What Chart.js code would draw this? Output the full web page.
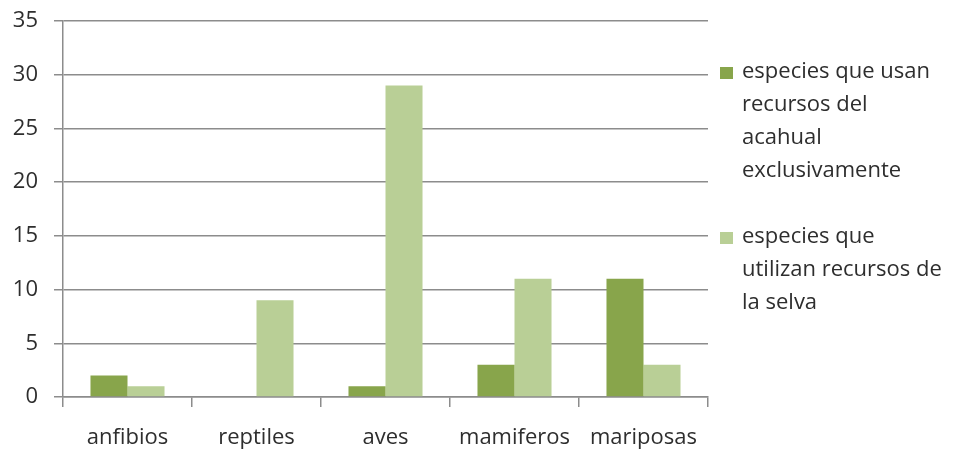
<!DOCTYPE html>
<html>
<head>
<meta charset="utf-8">
<script src="https://cdn.jsdelivr.net/npm/chart.js@4"></script>
<style>
  html, body { margin: 0; padding: 0; background: #fff; }
  #wrap { width: 954px; height: 452px; }
</style>
</head>
<body>
<div id="wrap"><canvas id="grafica" width="954" height="452"></canvas></div>
<script>
const categorias = ['anfibios', 'reptiles', 'aves', 'mamiferos', 'mariposas'];
const acahual = [2, 0, 1, 3, 11];
const selva = [1, 9, 29, 11, 3];
const etiquetaAcahual = ['especies que usan', 'recursos del', 'acahual', 'exclusivamente'];
const etiquetaSelva = ['especies que', 'utilizan recursos de', 'la selva'];

const fuente = '"Open Sans", "Noto Sans", sans-serif';
const textoColor = '#2e2e2e';
const rejilla = '#8c8c8c';

// leyenda propia, porque el texto va partido en varias lineas
const leyenda = {
  id: 'leyenda',
  afterDraw(chart) {
    const ctx = chart.ctx;
    const bloques = [
      { y: 73, color: chart.data.datasets[0].backgroundColor, lineas: chart.data.datasets[0].label },
      { y: 238, color: chart.data.datasets[1].backgroundColor, lineas: chart.data.datasets[1].label }
    ];
    ctx.save();
    ctx.font = '22px ' + fuente;
    ctx.textBaseline = 'middle';
    bloques.forEach(b => {
      ctx.fillStyle = b.color;
      ctx.fillRect(720, b.y - 6, 13, 12);
      ctx.fillStyle = textoColor;
      b.lineas.forEach((l, i) => ctx.fillText(l, 742, b.y - 1 + i * 33));
    });
    ctx.restore();
  }
};

new Chart(document.getElementById('grafica'), {
  type: 'bar',
  data: {
    labels: categorias,
    datasets: [
      { label: etiquetaAcahual, data: acahual, backgroundColor: '#88a54b' },
      { label: etiquetaSelva, data: selva, backgroundColor: '#b9cf96' }
    ]
  },
  options: {
    responsive: false,
    animation: false,
    categoryPercentage: 0.574,
    barPercentage: 1,
    layout: { padding: { top: 21, right: 246, left: 0, bottom: 0 } },
    plugins: { legend: { display: false }, tooltip: { enabled: false } },
    scales: {
      x: {
        grid: { drawOnChartArea: false, drawTicks: true, tickLength: 10, color: rejilla, lineWidth: 1.5 },
        border: { color: rejilla, width: 1.5 },
        ticks: { color: textoColor, font: { family: fuente, size: 22 }, padding: 18 },
        afterFit(s) { s.height = 55; s.paddingLeft = 0; s.paddingRight = 0; }
      },
      y: {
        min: 0, max: 35,
        ticks: { stepSize: 5, color: textoColor, font: { family: fuente, size: 22 }, padding: 16 },
        grid: { color: rejilla, lineWidth: 1.5, tickLength: 9 },
        border: { color: rejilla, width: 1.5 },
        afterFit(s) { s.width = 63; s.paddingTop = 0; s.paddingBottom = 0; }
      }
    }
  },
  plugins: [leyenda]
});
</script>
</body>
</html>
